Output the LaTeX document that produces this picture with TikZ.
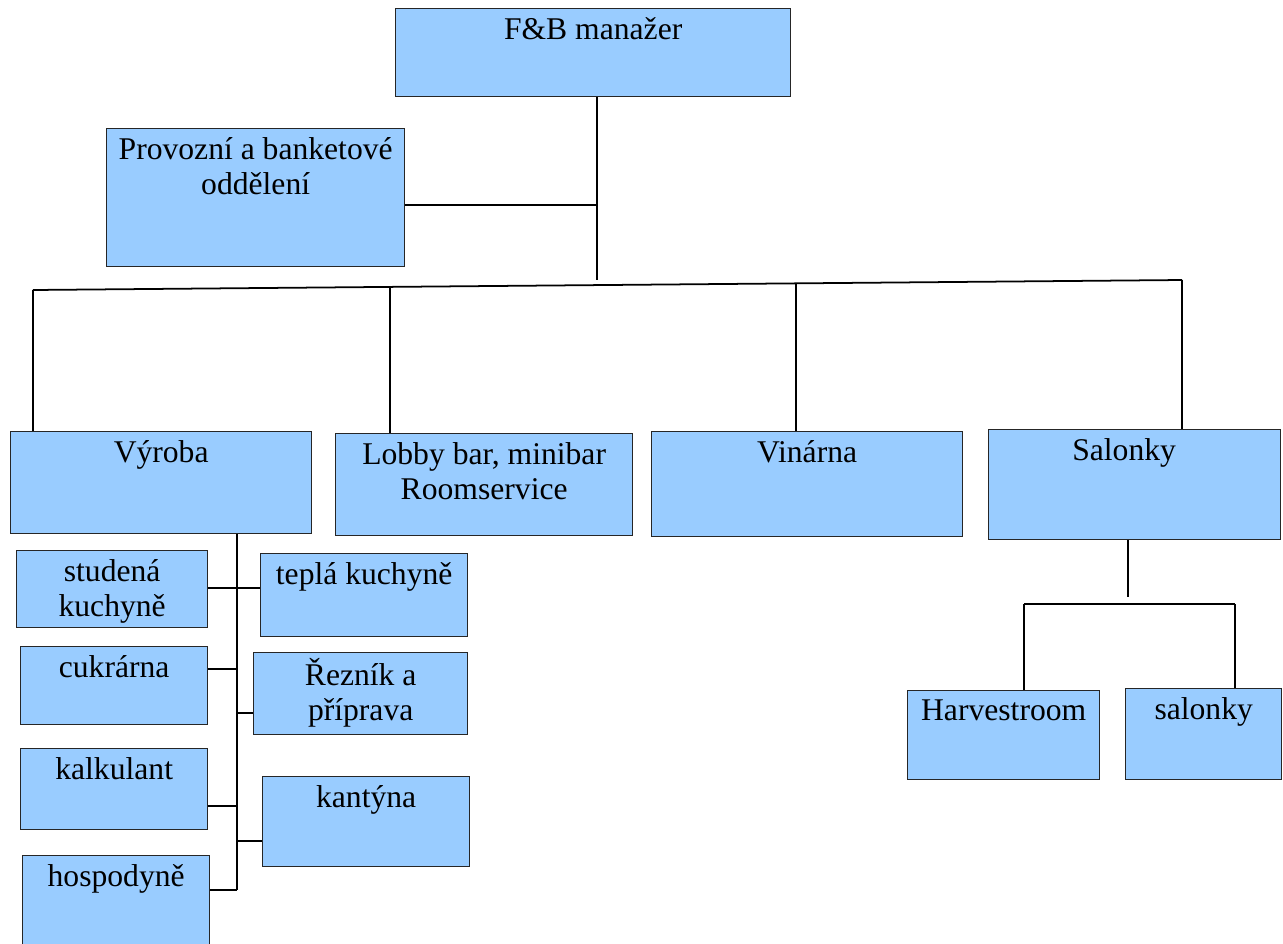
\documentclass[tikz,border=0pt]{standalone}
\usepackage{fontspec}
\setmainfont{Liberation Serif}
\usetikzlibrary{positioning}
\definecolor{boxblue}{RGB}{153,204,255}
\tikzset{
  unit/.style={draw=black!85,line width=0.8pt,fill=boxblue,anchor=north west,inner sep=0pt},
  boxtext/.style={anchor=north,inner sep=0pt,yshift=-5.3pt,align=center,font=\fontsize{18}{20}\selectfont},
  link/.style={line width=1pt}
}
\begin{document}
\begin{tikzpicture}[x=0.02cm,y=-0.02cm]
\useasboundingbox (0,0) rectangle (1283,943);

% top level
\node[unit,minimum width=7.90cm,minimum height=1.76cm,label={[boxtext]north:F\&B manažer}] (fb) at (395,8) {};
\node[unit,minimum width=5.96cm,minimum height=2.76cm,label={[boxtext]north:{Provozní a banketové\\oddělení}}] (provozni) at (106,128) {};

% departments
\node[unit,minimum width=6.02cm,minimum height=2.04cm,label={[boxtext]north:Výroba}] (vyroba) at (10,431) {};
\node[unit,minimum width=5.94cm,minimum height=2.04cm,label={[boxtext]north:{Lobby bar, minibar\\Roomservice}}] (lobby) at (335,433) {};
\node[unit,minimum width=6.22cm,minimum height=2.10cm,label={[boxtext]north:Vinárna}] (vinarna) at (651,431) {};
\node[unit,minimum width=5.84cm,minimum height=2.20cm,label={[boxtext,xshift=-6pt]north:Salonky}] (salonky) at (988,429) {};

% salonky
\node[unit,minimum width=3.84cm,minimum height=1.78cm,label={[boxtext]north:Harvestroom}] (harvest) at (907,690) {};
\node[unit,minimum width=3.12cm,minimum height=1.82cm,label={[boxtext]north:salonky}] (salonkyb) at (1125,688) {};

% vyroba
\node[unit,minimum width=3.82cm,minimum height=1.54cm,label={[boxtext]north:{studená\\kuchyně}}] (studena) at (16,550) {};
\node[unit,minimum width=4.14cm,minimum height=1.66cm,label={[boxtext]north:teplá kuchyně}] (tepla) at (260,553) {};
\node[unit,minimum width=3.74cm,minimum height=1.56cm,label={[boxtext]north:cukrárna}] (cukrarna) at (20,646) {};
\node[unit,minimum width=4.28cm,minimum height=1.64cm,label={[boxtext,yshift=1.7pt]north:{Řezník a\\příprava}}] (reznik) at (253,652) {};
\node[unit,minimum width=3.74cm,minimum height=1.62cm,label={[boxtext]north:kalkulant}] (kalkulant) at (20,748) {};
\node[unit,minimum width=4.14cm,minimum height=1.80cm,label={[boxtext]north:kantýna}] (kantyna) at (262,776) {};
\node[unit,minimum width=3.74cm,minimum height=2.00cm,label={[boxtext]north:hospodyně}] (hospodyne) at (22,855) {};

% joints
\coordinate (hub) at (597,280);
\coordinate (pjoin) at (597,205);
\coordinate (barL) at (33,290);
\coordinate (barR) at (1182,280);
\coordinate (dropB) at (390,286.9);
\coordinate (dropC) at (796,283.4);
\coordinate (sdrop) at (1128,597);
\coordinate (sbarL) at (1024,604);
\coordinate (sbarR) at (1235,604);
\coordinate (j1) at (237,588);
\coordinate (j2) at (237,669);
\coordinate (j3) at (237,713);
\coordinate (j4) at (237,806);
\coordinate (j5) at (237,841);
\coordinate (trunk) at (237,890);

% connectors
\draw[link] (fb.south -| hub) -- (hub);
\draw[link] (provozni.east |- pjoin) -- (pjoin);
\draw[link] (barL) -- (barR);
\draw[link] (barL) -- (barL |- vyroba.north);
\draw[link] (dropB) -- (dropB |- lobby.north);
\draw[link] (dropC) -- (dropC |- vinarna.north);
\draw[link] (barR) -- (barR |- salonky.north);
\draw[link] (salonky.south -| sdrop) -- (sdrop);
\draw[link] (sbarL) -- (sbarR);
\draw[link] (sbarL) -- (sbarL |- harvest.north);
\draw[link] (sbarR) -- (sbarR |- salonkyb.north);
\draw[link] (vyroba.south -| trunk) -- (trunk);
\draw[link] (j1 -| studena.east) -- (j1 -| tepla.west);
\draw[link] (j2 -| cukrarna.east) -- (j2);
\draw[link] (j3) -- (j3 -| reznik.west);
\draw[link] (j4 -| kalkulant.east) -- (j4);
\draw[link] (j5) -- (j5 -| kantyna.west);
\draw[link] (trunk -| hospodyne.east) -- (trunk);
\end{tikzpicture}
\end{document}
